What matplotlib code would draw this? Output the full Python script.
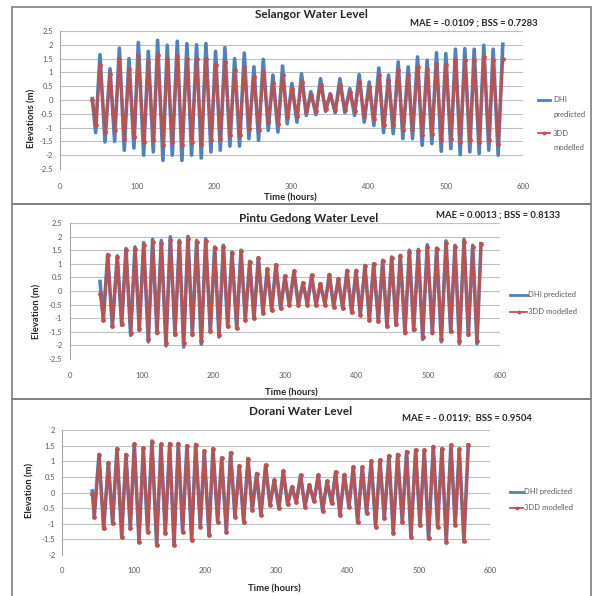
import numpy as np
import matplotlib
matplotlib.use("Agg")
import matplotlib.pyplot as plt
from matplotlib.lines import Line2D
from matplotlib.patches import Rectangle

plt.rcParams["font.family"] = ["Lato", "DejaVu Sans"]

W, H = 593, 596
BLUE = "#4F81BD"
RED = "#C0504D"
GRID = "#BFBFBF"
TXT = "#595959"

# ---- Selangor: times (h) and elevations (m) of each high and low water
sel_t_high = [51.8, 64.8, 76.9, 89.4, 101.5, 114.4, 126.5, 139.0, 152.0, 164.5,
              177.0, 189.1, 201.6, 213.7, 226.3, 238.8, 251.3, 263.4, 275.9, 288.4,
              300.5, 313.0, 325.1, 337.6, 350.2, 362.7, 375.6, 387.7, 400.7, 413.2,
              425.7, 438.3, 451.2, 463.3, 475.8, 487.9, 500.0, 512.5, 524.6, 536.7,
              549.2, 561.3]
sel_t_low = [46.2, 58.3, 70.8, 83.3, 95.8, 108.4, 120.9, 133.4, 145.5, 158.0,
             170.5, 183.1, 195.6, 207.7, 220.2, 232.7, 244.8, 257.3, 269.9, 282.4,
             294.5, 307.0, 319.1, 331.6, 344.1, 356.6, 369.2, 381.7, 394.2, 406.7,
             419.3, 431.8, 444.3, 456.8, 469.3, 481.9, 494.0, 506.5, 518.6, 531.1,
             543.2, 555.7, 567.8]
sel_dhi_high = [1.64, 1.13, 1.88, 1.50, 2.08, 1.76, 2.16, 1.98, 2.13, 2.04,
                2.00, 2.04, 1.76, 1.90, 1.50, 1.70, 1.20, 1.47, 0.90, 1.23,
                0.60, 0.95, 0.30, 0.77, 0.23, 0.77, 0.41, 0.92, 0.65, 1.16,
                0.90, 1.38, 1.20, 1.56, 1.44, 1.71, 1.68, 1.84, 1.86, 1.84,
                1.98, 1.84]
sel_dhi_low = [-1.18, -1.52, -1.50, -1.82, -1.74, -2.00, -1.88, -2.19, -2.00, -2.19,
               -2.00, -2.10, -1.88, -1.82, -1.67, -1.67, -1.40, -1.46, -1.10, -1.16,
               -0.86, -0.80, -0.56, -0.53, -0.41, -0.46, -0.46, -0.56, -0.80, -0.92,
               -1.18, -1.22, -1.40, -1.40, -1.64, -1.58, -1.86, -1.76, -1.98, -1.88,
               -1.94, -1.82, -2.00]
sel_3dd_high = [1.26, 0.95, 1.50, 1.13, 1.60, 1.38, 1.64, 1.50, 1.60, 1.50,
                1.50, 1.50, 1.28, 1.38, 1.07, 1.20, 0.83, 1.00, 0.63, 0.90,
                0.41, 0.65, 0.17, 0.53, 0.17, 0.53, 0.29, 0.65, 0.47, 0.90,
                0.71, 1.07, 0.90, 1.20, 1.13, 1.32, 1.28, 1.44, 1.44, 1.44,
                1.56, 1.44]
sel_3dd_low = [-0.92, -1.16, -1.10, -1.40, -1.34, -1.52, -1.46, -1.64, -1.52, -1.64,
               -1.52, -1.58, -1.46, -1.40, -1.28, -1.28, -1.04, -1.10, -0.80, -0.86,
               -0.62, -0.58, -0.41, -0.41, -0.31, -0.37, -0.37, -0.41, -0.58, -0.68,
               -0.89, -0.92, -1.10, -1.10, -1.28, -1.22, -1.46, -1.40, -1.52, -1.46,
               -1.52, -1.46, -1.58]
sel_ends = {"t": (41.9, 573.8), "dhi": (0.05, 2.02), "3dd": (0.0, 1.50)}

# ---- Pintu Gedong
pg_t_high = [52.6, 66.0, 78.1, 90.7, 102.8, 115.3, 127.4, 140.0, 152.6, 164.6,
             176.7, 189.3, 201.9, 214.0, 226.0, 238.6, 250.7, 262.8, 275.3, 287.4,
             300.0, 312.6, 325.1, 337.2, 349.3, 361.9, 374.4, 386.5, 399.1, 411.6,
             423.7, 436.3, 448.8, 460.9, 473.5, 486.0, 498.5, 511.6, 524.7, 537.2,
             549.8, 561.9]
pg_t_low = [46.5, 59.1, 72.1, 84.6, 96.7, 109.3, 121.4, 133.9, 146.5, 158.6,
            170.7, 183.3, 195.8, 207.9, 220.0, 232.6, 244.6, 256.7, 269.3, 281.4,
            293.9, 306.0, 318.6, 331.2, 343.3, 355.8, 367.9, 380.5, 393.0, 405.1,
            417.7, 430.2, 442.3, 454.9, 467.4, 479.5, 492.1, 505.6, 518.1, 531.2,
            543.3, 555.8, 567.9]
pg_dhi_high = [1.34, 1.29, 1.56, 1.62, 1.78, 1.90, 1.86, 1.99, 1.86, 2.01,
               1.86, 1.92, 1.62, 1.68, 1.43, 1.50, 1.09, 1.23, 0.82, 0.97,
               0.55, 0.74, 0.31, 0.58, 0.27, 0.61, 0.45, 0.76, 0.76, 0.94,
               1.00, 1.13, 1.25, 1.31, 1.50, 1.53, 1.70, 1.58, 1.84, 1.68,
               1.90, 1.68]
pg_dhi_low = [-1.08, -1.32, -1.26, -1.63, -1.45, -1.87, -1.57, -2.02, -1.63, -2.06,
              -1.63, -1.96, -1.51, -1.69, -1.32, -1.38, -1.08, -1.02, -0.83, -0.71,
              -0.65, -0.53, -0.53, -0.50, -0.53, -0.50, -0.59, -0.65, -0.80, -0.89,
              -1.08, -1.14, -1.32, -1.26, -1.57, -1.45, -1.78, -1.57, -1.87, -1.51,
              -1.94, -1.63, -1.94]
pg_3dd_high = [1.32, 1.25, 1.52, 1.55, 1.70, 1.80, 1.78, 1.88, 1.80, 1.90,
               1.80, 1.85, 1.58, 1.62, 1.40, 1.48, 1.08, 1.20, 0.80, 0.95,
               0.55, 0.73, 0.30, 0.57, 0.27, 0.60, 0.45, 0.74, 0.75, 0.92,
               0.98, 1.10, 1.22, 1.28, 1.45, 1.48, 1.62, 1.53, 1.75, 1.62,
               1.80, 1.62]
pg_3dd_low = [-1.05, -1.28, -1.22, -1.55, -1.40, -1.78, -1.52, -1.90, -1.58, -1.92,
              -1.58, -1.85, -1.48, -1.62, -1.30, -1.35, -1.06, -1.00, -0.82, -0.70,
              -0.64, -0.53, -0.52, -0.50, -0.52, -0.50, -0.58, -0.64, -0.78, -0.87,
              -1.05, -1.10, -1.28, -1.22, -1.50, -1.40, -1.70, -1.52, -1.78, -1.47,
              -1.85, -1.58, -1.85]
pg_ends = {"t": (41.9, 573.5), "dhi": (0.35, 1.74), "3dd": (-0.10, 1.74)}

# ---- Dorani
dor_t_high = [51.5, 64.6, 76.7, 89.3, 101.0, 113.6, 125.8, 138.4, 150.6, 162.7,
              174.9, 187.1, 199.2, 211.4, 223.5, 236.1, 248.3, 260.5, 272.6, 285.2,
              297.4, 310.0, 322.2, 334.3, 346.5, 359.1, 371.3, 383.4, 395.6, 408.2,
              420.8, 433.4, 445.6, 458.2, 470.4, 483.0, 495.6, 507.8, 520.4, 532.5,
              545.2, 556.9]
dor_t_low = [44.9, 58.0, 70.6, 83.3, 95.4, 107.6, 119.7, 132.4, 144.5, 156.7,
             168.8, 181.4, 193.6, 205.7, 217.9, 230.1, 242.2, 254.4, 266.5, 278.7,
             291.3, 303.9, 316.1, 328.2, 340.4, 353.0, 365.2, 377.8, 389.5, 402.1,
             414.3, 426.9, 439.5, 451.7, 464.3, 476.9, 489.1, 501.7, 513.8, 526.5,
             538.6, 551.2, 563.4]
dor_dhi_high = [1.22, 0.96, 1.41, 1.22, 1.55, 1.43, 1.65, 1.55, 1.57, 1.57,
                1.50, 1.54, 1.33, 1.41, 1.11, 1.27, 0.86, 1.09, 0.61, 0.88,
                0.40, 0.69, 0.18, 0.56, 0.24, 0.56, 0.36, 0.66, 0.58, 0.82,
                0.82, 1.01, 1.04, 1.18, 1.22, 1.31, 1.36, 1.36, 1.47, 1.41,
                1.52, 1.39]
dor_dhi_low = [-0.78, -1.16, -1.00, -1.42, -1.16, -1.58, -1.28, -1.69, -1.32, -1.69,
               -1.26, -1.53, -1.10, -1.37, -0.94, -1.26, -0.78, -0.94, -0.57, -0.73,
               -0.41, -0.51, -0.39, -0.32, -0.46, -0.28, -0.60, -0.35, -0.73, -0.46,
               -0.96, -0.67, -1.10, -0.84, -1.32, -0.94, -1.42, -1.05, -1.48, -1.10,
               -1.58, -1.05, -1.56]
dor_3dd_high = [1.20, 0.95, 1.40, 1.21, 1.54, 1.42, 1.63, 1.54, 1.56, 1.56,
                1.49, 1.53, 1.32, 1.40, 1.10, 1.26, 0.85, 1.08, 0.60, 0.87,
                0.40, 0.68, 0.18, 0.55, 0.24, 0.55, 0.36, 0.65, 0.57, 0.81,
                0.81, 1.00, 1.03, 1.17, 1.21, 1.30, 1.35, 1.35, 1.46, 1.40,
                1.51, 1.38]
dor_3dd_low = [-0.77, -1.15, -0.99, -1.41, -1.15, -1.57, -1.27, -1.68, -1.31, -1.68,
               -1.25, -1.52, -1.09, -1.36, -0.93, -1.25, -0.77, -0.93, -0.56, -0.72,
               -0.40, -0.50, -0.38, -0.31, -0.45, -0.28, -0.59, -0.34, -0.72, -0.45,
               -0.95, -0.66, -1.09, -0.83, -1.31, -0.93, -1.41, -1.04, -1.47, -1.09,
               -1.57, -1.04, -1.55]
dor_ends = {"t": (42.1, 569.5), "dhi": (0.05, 1.52), "3dd": (-0.05, 1.52)}


def fx(px):
    return px / W


def fy(py):
    return 1 - py / H


def series(t_low, v_low, t_high, v_high, t_ends, v_ends):
    # merge start, lows, highs and end point into one time-ordered line
    t = np.concatenate([[t_ends[0]], t_low, t_high, [t_ends[1]]])
    v = np.concatenate([[v_ends[0]], v_low, v_high, [v_ends[1]]])
    order = np.argsort(t)
    return t[order], v[order]


panels = [
    dict(title="Selangor Water Level", title_xy=(311, 15),
         stats="MAE = -0.0109 ; BSS = 0.7283", stats_xy=(474, 23),
         ylabel="Elevations (m)", ylabel_xy=(32, 118), xlabel_xy=(290, 198),
         box=(6.5, 204), axes=(60, 31, 523, 169), ylim=2.5, xpad=10.0, ypad=5.0,
         legend=dict(x0=538, x1=550, tx=553, yb=100, yr=133,
                     labels=("DHI\npredicted", "3DD\nmodelled")),
         t_low=sel_t_low, t_high=sel_t_high,
         dhi=(sel_dhi_low, sel_dhi_high), tdd=(sel_3dd_low, sel_3dd_high), ends=sel_ends),
    dict(title="Pintu Gedong Water Level", title_xy=(309, 218),
         stats="MAE = 0.0013 ; BSS = 0.8133", stats_xy=(498, 215),
         ylabel="Elevation (m)", ylabel_xy=(37, 311), xlabel_xy=(291, 393),
         box=(204, 399), axes=(70, 223, 500, 359), ylim=2.5, xpad=9.0, ypad=5.5,
         legend=dict(x0=510, x1=527, tx=527.5, yb=295, yr=311.5,
                     labels=("DHI predicted", "3DD modelled")),
         t_low=pg_t_low, t_high=pg_t_high,
         dhi=(pg_dhi_low, pg_dhi_high), tdd=(pg_3dd_low, pg_3dd_high), ends=pg_ends),
    dict(title="Dorani Water Level", title_xy=(301, 411.5),
         stats="MAE = - 0.0119;  BSS = 0.9504", stats_xy=(467, 418),
         ylabel="Elevation (m)", ylabel_xy=(30, 490), xlabel_xy=(274, 589),
         box=(399, 600), axes=(62.3, 430, 490, 555), ylim=2.0, xpad=8.3, ypad=5.0,
         legend=dict(x0=510, x1=523, tx=523.5, yb=491.5, yr=508,
                     labels=("DHI predicted", "3DD modelled")),
         t_low=dor_t_low, t_high=dor_t_high,
         dhi=(dor_dhi_low, dor_dhi_high), tdd=(dor_3dd_low, dor_3dd_high), ends=dor_ends),
]

fig = plt.figure(figsize=(W / 100, H / 100), dpi=100)
fig.patch.set_facecolor("white")

for p in panels:
    top, bot = p["box"]
    fig.add_artist(Rectangle((fx(12), fy(bot)), fx(591) - fx(12), fy(top) - fy(bot),
                             transform=fig.transFigure, fill=False,
                             edgecolor="#7F7F7F", linewidth=1.2))

    l, t, r, b = p["axes"]
    ax = fig.add_axes([fx(l), fy(b), fx(r) - fx(l), fy(t) - fy(b)])
    lim = p["ylim"]
    ax.set_xlim(0, 600)
    ax.set_ylim(-lim, lim)
    ax.set_xticks(np.arange(0, 601, 100))
    yt = np.arange(-lim, lim + 0.01, 0.5)
    ax.set_yticks(yt)
    ax.set_yticklabels([f"{v:g}" for v in yt])
    for s in ("top", "right", "bottom"):
        ax.spines[s].set_visible(False)
    ax.spines["left"].set_color("#A6A6A6")
    ax.spines["left"].set_linewidth(0.8)
    ax.grid(axis="y", color=GRID, linewidth=0.8)
    ax.set_axisbelow(True)
    ax.tick_params(axis="x", length=0, pad=p["xpad"], labelsize=5.5, labelcolor=TXT)
    ax.tick_params(axis="y", length=0, pad=p["ypad"], labelsize=5.5, labelcolor=TXT)

    e = p["ends"]
    tb, vb = series(p["t_low"], p["dhi"][0], p["t_high"], p["dhi"][1], e["t"], e["dhi"])
    tr, vr = series(p["t_low"], p["tdd"][0], p["t_high"], p["tdd"][1], e["t"], e["3dd"])
    ax.plot(tb, vb, color=BLUE, linewidth=2.6, solid_joinstyle="round", clip_on=False)
    ax.plot(tr, vr, color=RED, linewidth=1.9, marker="o", markersize=2.4,
            solid_joinstyle="round", clip_on=False)

    fig.text(fx(p["title_xy"][0]), fy(p["title_xy"][1]), p["title"], ha="center",
             va="center", fontsize=8.5, fontweight="bold", color="#262626")
    fig.text(fx(p["stats_xy"][0]), fy(p["stats_xy"][1]), p["stats"], ha="center",
             va="center", fontsize=6.8, fontweight="bold", color="#262626")
    fig.text(fx(p["ylabel_xy"][0]), fy(p["ylabel_xy"][1]), p["ylabel"], ha="center",
             va="center", rotation=90, fontsize=6.8, fontweight="bold", color="#262626")
    fig.text(fx(p["xlabel_xy"][0]), fy(p["xlabel_xy"][1]), "Time (hours)", ha="center",
             va="center", fontsize=6.8, fontweight="bold", color="#262626")

    # legend, drawn by hand to keep the Excel-style placement
    lg = p["legend"]
    for yy, col, lab, is_red in ((lg["yb"], BLUE, lg["labels"][0], False),
                                 (lg["yr"], RED, lg["labels"][1], True)):
        fig.add_artist(Line2D([fx(lg["x0"]), fx(lg["x1"])], [fy(yy), fy(yy)],
                              transform=fig.transFigure, color=col,
                              linewidth=1.3 if is_red else 2.0))
        if is_red:
            fig.add_artist(Line2D([fx((lg["x0"] + lg["x1"]) / 2)], [fy(yy)],
                                  transform=fig.transFigure, color=col,
                                  marker="o", markersize=1.8))
        for k, line in enumerate(lab.split("\n")):
            fig.text(fx(lg["tx"]), fy(yy + 15 * k), line, ha="left", va="center",
                     fontsize=5.5, color=TXT)

fig.savefig("out.png", dpi=100, facecolor="white")
